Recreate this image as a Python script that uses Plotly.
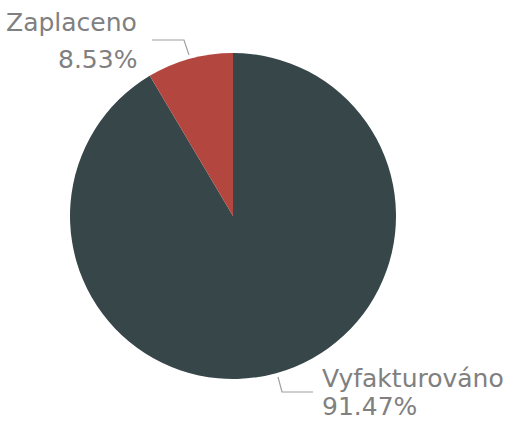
import plotly.graph_objects as go

labels = ["Vyfakturováno", "Zaplaceno"]
values = [91.47, 8.53]
colors = ["#374649", "#b3473f"]

W, H = 514, 423

def px(x):
    return x / W

def py(y):
    return 1 - y / H

fig = go.Figure(go.Pie(
    labels=labels, values=values, sort=False, direction="clockwise", rotation=0,
    marker=dict(colors=colors, line=dict(width=0)),
    textinfo="none", hoverinfo="label+percent", showlegend=False,
    domain=dict(x=[px(70), px(396)], y=[py(379), py(53)]),
))

font = dict(family="DejaVu Sans", size=25, color="#808080")
anns = [
    (139, 23, "right", labels[1]),
    (139, 60, "right", f"{values[1]:.2f}%"),
    (320, 378, "left", labels[0]),
    (320, 406, "left", f"{values[0]:.2f}%"),
]
for x, y, anc, t in anns:
    fig.add_annotation(x=px(x), y=py(y), xref="paper", yref="paper", text=t,
                       showarrow=False, xanchor=anc, yanchor="middle", font=font)

linec = "#a0a0a0"
for pts in [[(152, 40), (184, 40), (189, 55)], [(278, 377), (282, 392), (313, 392)]]:
    path = "M " + " L ".join(f"{px(x)},{py(y)}" for x, y in pts)
    fig.add_shape(type="path", path=path, xref="paper", yref="paper",
                  line=dict(color=linec, width=1.2))

fig.update_layout(width=W, height=H, margin=dict(l=0, r=0, t=0, b=0),
                  paper_bgcolor="white", plot_bgcolor="white")
fig.write_html("out.html")
